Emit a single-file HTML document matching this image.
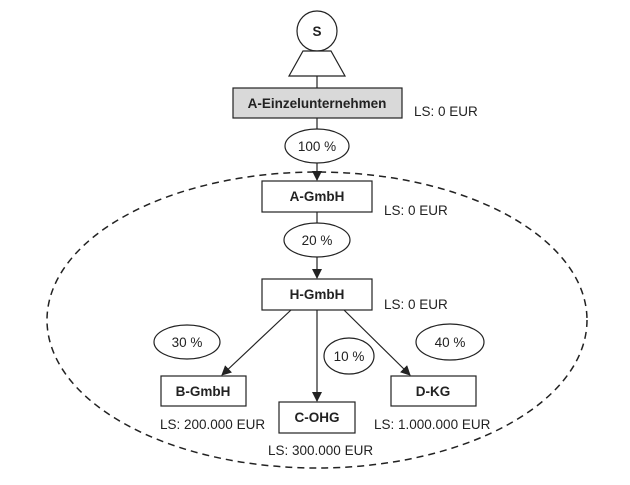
<!DOCTYPE html>
<html><head><meta charset="utf-8"><style>
html,body{margin:0;padding:0;background:#fff;}
svg text{font-family:"Liberation Sans",sans-serif;fill:#222;}
.b{font-weight:bold;font-size:13.5px;}
.n{font-size:13.5px;}
</style></head><body>
<svg width="630" height="480" viewBox="0 0 630 480" xmlns="http://www.w3.org/2000/svg">
<defs><marker id="a" markerWidth="10" markerHeight="10" refX="9" refY="5" orient="auto" markerUnits="userSpaceOnUse"><path d="M0,0 L10,5 L0,10 z" fill="#222"/></marker></defs>
<g stroke="#222" stroke-width="1.2" fill="none">
<ellipse cx="317" cy="320" rx="270" ry="148" stroke-dasharray="7,5" stroke-width="1.5"/>
<circle cx="317" cy="31" r="20" fill="#fff"/>
<path d="M303,51 L331,51 L345,76 L289,76 Z" fill="#fff"/>
<line x1="317" y1="76" x2="317" y2="88"/>
<rect x="233" y="88" width="169" height="30" fill="#d9d9d9"/>
<line x1="317" y1="118" x2="317" y2="129"/>
<ellipse cx="317" cy="146" rx="32" ry="17" fill="#fff"/>
<line x1="317" y1="163" x2="317" y2="180" marker-end="url(#a)"/>
<rect x="262" y="181" width="110" height="31" fill="#fff"/>
<line x1="317" y1="212" x2="317" y2="223"/>
<ellipse cx="317" cy="240" rx="33" ry="17" fill="#fff"/>
<line x1="317" y1="257" x2="317" y2="278" marker-end="url(#a)"/>
<rect x="262" y="279" width="110" height="31" fill="#fff"/>
<line x1="291" y1="310" x2="222" y2="375" marker-end="url(#a)"/>
<line x1="317" y1="310" x2="317" y2="401" marker-end="url(#a)"/>
<line x1="344" y1="310" x2="410" y2="375" marker-end="url(#a)"/>
<ellipse cx="187" cy="342" rx="33" ry="17"/>
<ellipse cx="349" cy="356" rx="25" ry="18"/>
<ellipse cx="450" cy="342" rx="34" ry="18"/>
<rect x="161" y="376" width="85" height="30" fill="#fff"/>
<rect x="279" y="402" width="76" height="31" fill="#fff"/>
<rect x="391" y="376" width="85" height="30" fill="#fff"/>
</g>
<text x="317" y="36" class="b" text-anchor="middle">S</text>
<text x="317" y="108" class="b" text-anchor="middle">A-Einzelunternehmen</text>
<text x="414" y="116" class="n">LS: 0 EUR</text>
<text x="317" y="151" class="n" text-anchor="middle">100 %</text>
<text x="317" y="201" class="b" text-anchor="middle">A-GmbH</text>
<text x="384" y="215" class="n">LS: 0 EUR</text>
<text x="317" y="245" class="n" text-anchor="middle">20 %</text>
<text x="317" y="299" class="b" text-anchor="middle">H-GmbH</text>
<text x="384" y="309" class="n">LS: 0 EUR</text>
<text x="187" y="347" class="n" text-anchor="middle">30 %</text>
<text x="349" y="361" class="n" text-anchor="middle">10 %</text>
<text x="450" y="347" class="n" text-anchor="middle">40 %</text>
<text x="203" y="396" class="b" text-anchor="middle">B-GmbH</text>
<text x="317" y="422" class="b" text-anchor="middle">C-OHG</text>
<text x="433" y="396" class="b" text-anchor="middle">D-KG</text>
<text x="160" y="429" class="n">LS: 200.000 EUR</text>
<text x="268" y="455" class="n">LS: 300.000 EUR</text>
<text x="374" y="429" class="n">LS: 1.000.000 EUR</text>
</svg>
</body></html>
